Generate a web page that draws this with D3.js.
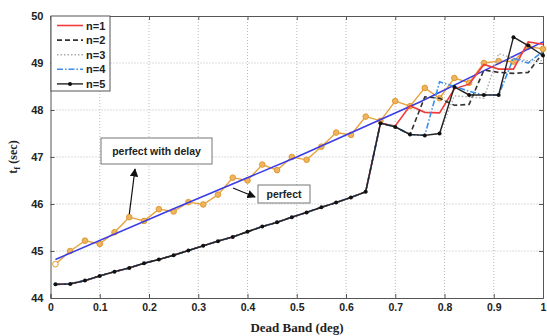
<!DOCTYPE html>
<html>
<head>
<meta charset="utf-8">
<script src="https://cdn.jsdelivr.net/npm/d3@7"></script>
<style>
  body { margin: 0; background: #fff; }
  svg text { font-family: Arial, "Liberation Sans", sans-serif; font-weight: bold; }
</style>
</head>
<body>
<div id="chart"></div>
<script>
// dead band values (deg), step 0.03
const deadBand = [0.01, 0.04, 0.07, 0.10, 0.13, 0.16, 0.19, 0.22, 0.25, 0.28, 0.31, 0.34,
  0.37, 0.40, 0.43, 0.46, 0.49, 0.52, 0.55, 0.58, 0.61, 0.64, 0.67, 0.70, 0.73, 0.76,
  0.79, 0.82, 0.85, 0.88, 0.91, 0.94, 0.97, 1.00];

// perfect with delay (orange)
const withDelay = [44.72, 45.00, 45.22, 45.15, 45.40, 45.72, 45.64, 45.89, 45.84, 46.04, 45.99, 46.20,
  46.56, 46.50, 46.84, 46.72, 47.00, 46.94, 47.22, 47.52, 47.47, 47.86, 47.77, 48.19, 48.08, 48.47,
  48.25, 48.68, 48.58, 49.00, 49.04, 49.03, 49.35, 49.30];

// perfect (blue line)
const perfectX = [0.01, 0.25, 0.50, 0.75, 1.00];
const perfectY = [44.82, 45.90, 47.00, 48.17, 49.45];

// n=5, full curve
const n5 = [44.29, 44.30, 44.37, 44.47, 44.56, 44.64, 44.74, 44.82, 44.91, 45.01, 45.11, 45.21,
  45.30, 45.41, 45.52, 45.61, 45.72, 45.82, 45.93, 46.03, 46.14, 46.26, 47.72, 47.64, 47.48, 47.46,
  47.50, 48.49, 48.32, 48.32, 48.32, 49.55, 49.37, 49.16];

// n=1..4 overlap n=5 up to 0.64, these are the values from 0.67 on
const tailStart = 22;
const n1Tail = [47.72, 47.66, 48.09, 47.95, 47.94, 48.45, 48.55, 48.97, 48.87, 48.87, 49.45, 49.40];
const n2Tail = [47.72, 47.64, 47.48, 48.28, 48.25, 48.10, 48.12, 48.85, 48.80, 48.78, 48.80, 49.22];
const n3Tail = [47.72, 47.64, 47.48, 47.46, 47.50, 48.30, 48.28, 48.25, 49.20, 49.10, 49.05, 49.05];
const n4Tail = [47.72, 47.64, 47.48, 47.46, 48.60, 48.50, 48.40, 48.32, 48.32, 49.10, 49.00, 49.25];

const xTicks = [0, 0.1, 0.2, 0.3, 0.4, 0.5, 0.6, 0.7, 0.8, 0.9, 1];
const yTicks = [44, 45, 46, 47, 48, 49, 50];

const width = 547, height = 336;
const mLeft = 50.5, mRight = 543, mTop = 16, mBottom = 298;

const x = d3.scaleLinear().domain([0, 1]).range([mLeft, mRight]);
const y = d3.scaleLinear().domain([44, 50]).range([mBottom, mTop]);

const svg = d3.select('#chart').append('svg')
  .attr('width', width)
  .attr('height', height);

// grid
svg.append('g')
  .selectAll('line')
  .data(xTicks.slice(1, -1))
  .join('line')
    .attr('x1', d => x(d)).attr('x2', d => x(d))
    .attr('y1', mTop).attr('y2', mBottom)
    .attr('stroke', '#bbb')
    .attr('stroke-dasharray', '1,2');
svg.append('g')
  .selectAll('line')
  .data(yTicks.slice(1, -1))
  .join('line')
    .attr('x1', mLeft).attr('x2', mRight)
    .attr('y1', d => y(d)).attr('y2', d => y(d))
    .attr('stroke', '#bbb')
    .attr('stroke-dasharray', '1,2');

// axes (matlab style, ticks inside)
const xAxis = d3.axisBottom(x).tickValues(xTicks).tickSize(-4).tickPadding(6)
  .tickFormat(d => d === 0 || d === 1 ? d : d3.format('.1f')(d));
const yAxis = d3.axisLeft(y).tickValues(yTicks).tickSize(-4).tickPadding(7)
  .tickFormat(d3.format('d'));
const gx = svg.append('g').attr('transform', `translate(0, ${mBottom})`).call(xAxis);
const gy = svg.append('g').attr('transform', `translate(${mLeft}, 0)`).call(yAxis);
svg.append('g').attr('transform', `translate(0, ${mTop})`)
  .call(d3.axisTop(x).tickValues(xTicks).tickSize(-4).tickFormat(''));
svg.append('g').attr('transform', `translate(${mRight}, 0)`)
  .call(d3.axisRight(y).tickValues(yTicks).tickSize(-4).tickFormat(''));
svg.selectAll('.domain').attr('stroke', '#555');
svg.selectAll('.tick line').attr('stroke', '#555');
gx.selectAll('text').attr('font-size', '10.5px').attr('fill', '#222');
gy.selectAll('text').attr('font-size', '11px').attr('fill', '#222');

const line = d3.line().x(d => x(d[0])).y(d => y(d[1]));
const series = (vals) => deadBand.map((d, i) => [d, vals[i]]);
const withTail = (tail) => n5.slice(0, tailStart).concat(tail);

// perfect with delay
svg.append('path')
  .datum(series(withDelay))
  .attr('d', line)
  .attr('fill', 'none')
  .attr('stroke', '#e9a23b')
  .attr('stroke-width', 1.4);
svg.append('g')
  .selectAll('circle')
  .data(series(withDelay))
  .join('circle')
    .attr('cx', d => x(d[0]))
    .attr('cy', d => y(d[1]))
    .attr('r', 2.8)
    .attr('fill', (d, i) => i === 0 ? '#fff' : '#efb460')
    .attr('stroke', '#e09a30')
    .attr('stroke-width', 1);

// perfect
svg.append('path')
  .datum(perfectX.map((d, i) => [d, perfectY[i]]))
  .attr('d', line)
  .attr('fill', 'none')
  .attr('stroke', '#3a3ae8')
  .attr('stroke-width', 1.5);

const styles = [
  { name: 'n=1', vals: withTail(n1Tail), color: '#f03c3c', dash: null, w: 1.6 },
  { name: 'n=2', vals: withTail(n2Tail), color: '#333', dash: '5,3', w: 1.6 },
  { name: 'n=3', vals: withTail(n3Tail), color: '#aaa', dash: '1.5,2', w: 1.4 },
  { name: 'n=4', vals: withTail(n4Tail), color: '#3d8fe8', dash: '6,2,1.5,2', w: 1.6 },
  { name: 'n=5', vals: n5, color: '#222', dash: null, w: 1.4 }
];

styles.forEach(s => {
  svg.append('path')
    .datum(series(s.vals))
    .attr('d', line)
    .attr('fill', 'none')
    .attr('stroke', s.color)
    .attr('stroke-width', s.w)
    .attr('stroke-dasharray', s.dash);
});
svg.append('g')
  .selectAll('circle')
  .data(series(n5))
  .join('circle')
    .attr('cx', d => x(d[0]))
    .attr('cy', d => y(d[1]))
    .attr('r', 2)
    .attr('fill', '#111');

// legend
const legend = svg.append('g');
legend.append('rect')
  .attr('x', 51).attr('y', 16)
  .attr('width', 59).attr('height', 75)
  .attr('fill', '#fff')
  .attr('stroke', '#555');
styles.forEach((s, i) => {
  const ly = 25.5 + i * 14.6;
  legend.append('line')
    .attr('x1', 57).attr('x2', 83)
    .attr('y1', ly).attr('y2', ly)
    .attr('stroke', s.color)
    .attr('stroke-width', s.w)
    .attr('stroke-dasharray', s.dash);
  if (s.name === 'n=5') {
    legend.append('circle').attr('cx', 70).attr('cy', ly).attr('r', 2).attr('fill', '#111');
  }
  legend.append('text')
    .attr('x', 86).attr('y', ly + 4)
    .attr('font-size', '11px')
    .attr('fill', '#222')
    .text(s.name);
});

// annotations
svg.append('defs').append('marker')
  .attr('id', 'head')
  .attr('viewBox', '0 0 10 10')
  .attr('refX', 9).attr('refY', 5)
  .attr('markerWidth', 7).attr('markerHeight', 7)
  .attr('orient', 'auto')
  .append('path')
    .attr('d', 'M0,0 L10,5 L0,10 Z')
    .attr('fill', '#111');

svg.append('rect')
  .attr('x', 101).attr('y', 138)
  .attr('width', 111).attr('height', 26)
  .attr('fill', '#fff').attr('stroke', '#777');
svg.append('text')
  .attr('x', 156.5).attr('y', 155)
  .attr('text-anchor', 'middle')
  .attr('font-size', '10.5px')
  .attr('fill', '#222')
  .text('perfect with delay');
svg.append('line')
  .attr('x1', x(0.16)).attr('y1', y(45.72) - 3)
  .attr('x2', 135).attr('y2', 169)
  .attr('stroke', '#111').attr('stroke-width', 1.2)
  .attr('marker-end', 'url(#head)');

svg.append('rect')
  .attr('x', 258).attr('y', 185)
  .attr('width', 52).attr('height', 18)
  .attr('fill', '#fff').attr('stroke', '#777');
svg.append('text')
  .attr('x', 284).attr('y', 198)
  .attr('text-anchor', 'middle')
  .attr('font-size', '10.5px')
  .attr('fill', '#222')
  .text('perfect');
svg.append('line')
  .attr('x1', 233).attr('y1', 188)
  .attr('x2', 255).attr('y2', 197)
  .attr('stroke', '#111').attr('stroke-width', 1.2)
  .attr('marker-end', 'url(#head)');

// axis titles
svg.append('text')
  .attr('x', 297).attr('y', 332)
  .attr('text-anchor', 'middle')
  .attr('font-size', '13px')
  .style('font-family', '"Liberation Serif", "Times New Roman", serif')
  .attr('fill', '#222')
  .text('Dead Band (deg)');
const yt = svg.append('text')
  .attr('transform', 'translate(17, 157) rotate(-90)')
  .attr('text-anchor', 'middle')
  .attr('font-size', '12px')
  .style('font-family', '"Liberation Serif", "Times New Roman", serif')
  .attr('fill', '#222');
yt.append('tspan').text('t');
yt.append('tspan').attr('font-size', '9px').attr('dy', 3).text('f');
yt.append('tspan').attr('dy', -3).text(' (sec)');
</script>
</body>
</html>
